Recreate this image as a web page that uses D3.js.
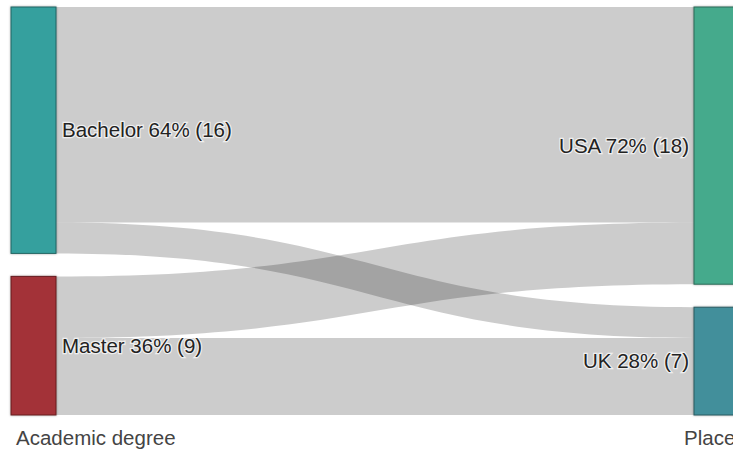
<!DOCTYPE html>
<html>
<head>
<meta charset="utf-8">
<script src="https://cdn.jsdelivr.net/npm/d3@7"></script>
<style>
  html, body { margin: 0; padding: 0; background: #fff; overflow: hidden; }
  svg { display: block; font-family: "Liberation Sans", Arial, sans-serif; }
</style>
</head>
<body>
<svg></svg>
<script>
const width = 733,
      height = 455;

// columns and their nodes
const columnTitles = ['Academic degree', 'Place'];
const degrees = ['Bachelor', 'Master'];
const places = ['USA', 'UK'];
const nodeColors = ['#34a09e', '#a33237', '#45aa8c', '#428f9b'];

// flows: degree -> place
const linkSource = ['Bachelor', 'Bachelor', 'Master', 'Master'];
const linkTarget = ['USA', 'UK', 'USA', 'UK'];
const linkValue  = [14, 2, 4, 5];

const yTop = 7,
      yBottom = 415,
      nodePad = 23,   // gap between nodes in a column
      nodeW = 45;

const svg = d3.select('svg')
  .attr('width', width)
  .attr('height', height);

const defs = svg.append('defs');
defs.append('filter').attr('id', 'shadow')
  .attr('x', '-20%').attr('y', '-20%').attr('width', '140%').attr('height', '140%')
  .append('feDropShadow')
  .attr('dx', 0).attr('dy', 0)
  .attr('stdDeviation', 1)
  .attr('flood-color', '#000')
  .attr('flood-opacity', 0.35);

const columns = [degrees, places];

// node values from the links
const valueOf = name => d3.sum(linkValue.filter((v, i) => linkSource[i] === name || linkTarget[i] === name));
const total = d3.sum(linkValue);

const h = d3.scaleLinear()
  .domain([0, total])
  .range([0, yBottom - yTop - nodePad]);

const x = d3.scaleLinear()
  .domain([0, 1])
  .range([11, 694]);

// lay out nodes
let nodes = [];
columns.forEach((col, ci) => {
  let y = yTop;
  col.forEach(name => {
    const v = valueOf(name);
    nodes.push({ name, col: ci, value: v, x0: x(ci), x1: x(ci) + nodeW, y0: y, y1: y + h(v), out: y, in: y });
    y += h(v) + nodePad;
  });
});
nodes.forEach((n, i) => n.color = nodeColors[i]);
const byName = new Map(nodes.map(n => [n.name, n]));

// lay out links (source order then target order)
const links = linkValue.map((v, i) => ({ s: byName.get(linkSource[i]), t: byName.get(linkTarget[i]), value: v }));
links.forEach(l => {
  const w = h(l.value);
  l.sy0 = l.s.out; l.sy1 = l.s.out + w; l.s.out += w;
});
degrees.forEach(dn => {
  links.filter(l => l.s.name === dn).forEach(l => {
    const w = h(l.value);
    l.ty0 = l.t.in; l.ty1 = l.t.in + w; l.t.in += w;
  });
});

function ribbon(l) {
  const x0 = l.s.x1, x1 = l.t.x0, xm = (x0 + x1) / 2;
  const p = d3.path();
  p.moveTo(x0, l.sy0);
  p.bezierCurveTo(xm, l.sy0, xm, l.ty0, x1, l.ty0);
  p.lineTo(x1, l.ty1);
  p.bezierCurveTo(xm, l.ty1, xm, l.sy1, x0, l.sy1);
  p.closePath();
  return p.toString();
}

svg.append('g')
  .selectAll('path')
  .data(links)
  .enter().append('path')
  .attr('d', ribbon)
  .attr('fill', '#000')
  .attr('fill-opacity', 0.2);

svg.append('g')
  .selectAll('rect')
  .data(nodes)
  .enter().append('rect')
  .attr('x', d => d.x0)
  .attr('y', d => d.y0)
  .attr('width', nodeW)
  .attr('height', d => d.y1 - d.y0)
  .attr('fill', d => d.color)
  .attr('stroke', d => d3.color(d.color).darker(1.3))
  .attr('stroke-width', 1)
  .style('filter', 'url(#shadow)');

svg.append('g')
  .selectAll('text')
  .data(nodes)
  .enter().append('text')
  .attr('x', d => d.col === 0 ? d.x1 + 6 : d.x0 - 5)
  .attr('y', d => (d.y0 + d.y1) / 2)
  .attr('dy', '0.35em')
  .attr('text-anchor', d => d.col === 0 ? 'start' : 'end')
  .attr('font-size', 20.5)
  .attr('fill', '#222')
  .attr('stroke', '#fff')
  .attr('stroke-width', 2.5)
  .attr('stroke-opacity', 0.7)
  .attr('paint-order', 'stroke')
  .text(d => d.name + ' ' + Math.round(d.value / total * 100) + '% (' + d.value + ')');

svg.append('g')
  .selectAll('text')
  .data(columnTitles)
  .enter().append('text')
  .attr('x', (d, i) => i === 0 ? x(0) + 5 : x(1) - 10)
  .attr('y', 445)
  .attr('font-size', 20.5)
  .attr('fill', '#444')
  .text(d => d);
</script>
</body>
</html>
